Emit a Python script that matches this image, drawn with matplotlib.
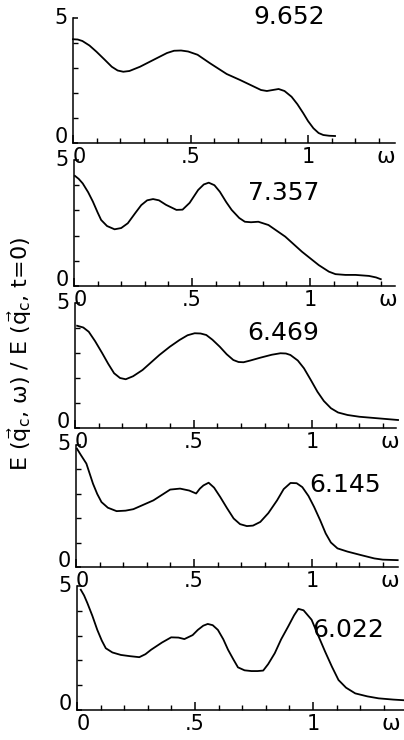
import matplotlib
matplotlib.use('Agg')
import matplotlib.pyplot as plt
from matplotlib.ticker import FixedLocator

plt.rcParams['font.family'] = ['DejaVu Sans']
plt.rcParams['mathtext.fontset'] = 'dejavusans'

panel_labels = ['9.652', '7.357', '6.469', '6.145', '6.022']

w1 = [0, 0.02, 0.04, 0.07, 0.10, 0.135, 0.165, 0.19, 0.214, 0.24, 0.285, 0.356, 0.40, 0.43, 0.46, 0.49, 0.53, 0.583, 0.654, 0.711, 0.76, 0.80, 0.825, 0.85, 0.875, 0.90, 0.93, 0.955, 0.98, 1.00, 1.023, 1.045, 1.065, 1.09, 1.115]
e1 = [4.15, 4.14, 4.08, 3.90, 3.65, 3.33, 3.05, 2.90, 2.85, 2.88, 3.05, 3.39, 3.60, 3.69, 3.70, 3.66, 3.53, 3.19, 2.76, 2.52, 2.30, 2.12, 2.08, 2.12, 2.16, 2.08, 1.85, 1.55, 1.19, 0.88, 0.59, 0.40, 0.32, 0.29, 0.28]

w2 = [0.004, 0.02, 0.037, 0.06, 0.08, 0.10, 0.115, 0.14, 0.172, 0.20, 0.228, 0.26, 0.285, 0.31, 0.335, 0.36, 0.39, 0.434, 0.46, 0.49, 0.526, 0.55, 0.571, 0.595, 0.618, 0.645, 0.668, 0.70, 0.724, 0.75, 0.781, 0.824, 0.895, 0.966, 1.037, 1.08, 1.108, 1.15, 1.193, 1.25, 1.28, 1.30]
e2 = [4.37, 4.25, 4.07, 3.72, 3.35, 2.92, 2.62, 2.38, 2.25, 2.30, 2.49, 2.90, 3.21, 3.40, 3.45, 3.40, 3.22, 3.02, 3.03, 3.30, 3.81, 4.03, 4.10, 4.00, 3.74, 3.33, 3.02, 2.70, 2.55, 2.53, 2.55, 2.42, 1.96, 1.36, 0.83, 0.57, 0.47, 0.44, 0.44, 0.40, 0.34, 0.27]

w3 = [0.009, 0.035, 0.058, 0.085, 0.115, 0.14, 0.165, 0.19, 0.214, 0.245, 0.285, 0.356, 0.40, 0.441, 0.475, 0.505, 0.53, 0.554, 0.58, 0.611, 0.64, 0.668, 0.69, 0.711, 0.74, 0.781, 0.83, 0.867, 0.89, 0.909, 0.94, 0.966, 0.995, 1.023, 1.05, 1.08, 1.11, 1.15, 1.20, 1.25, 1.30, 1.363]
e3 = [4.09, 4.02, 3.85, 3.47, 2.99, 2.57, 2.19, 2.00, 1.95, 2.07, 2.32, 2.92, 3.25, 3.52, 3.71, 3.79, 3.78, 3.72, 3.53, 3.25, 2.95, 2.72, 2.64, 2.63, 2.70, 2.81, 2.93, 2.99, 2.98, 2.92, 2.70, 2.39, 1.92, 1.45, 1.08, 0.79, 0.62, 0.52, 0.45, 0.41, 0.37, 0.32]

w4 = [0.004, 0.02, 0.044, 0.072, 0.09, 0.108, 0.135, 0.172, 0.21, 0.243, 0.328, 0.37, 0.399, 0.441, 0.48, 0.509, 0.525, 0.54, 0.562, 0.585, 0.611, 0.64, 0.668, 0.695, 0.724, 0.75, 0.781, 0.815, 0.852, 0.88, 0.909, 0.935, 0.959, 0.985, 1.009, 1.035, 1.058, 1.08, 1.108, 1.15, 1.206, 1.264, 1.30, 1.363]
e4 = [4.83, 4.58, 4.22, 3.40, 2.98, 2.65, 2.42, 2.28, 2.30, 2.36, 2.72, 2.98, 3.16, 3.20, 3.12, 3.00, 3.20, 3.33, 3.44, 3.24, 2.86, 2.40, 1.98, 1.75, 1.67, 1.69, 1.84, 2.20, 2.72, 3.18, 3.43, 3.42, 3.26, 2.90, 2.45, 1.90, 1.37, 1.00, 0.76, 0.63, 0.49, 0.35, 0.30, 0.28]

w5 = [0.016, 0.03, 0.044, 0.065, 0.086, 0.105, 0.122, 0.15, 0.186, 0.225, 0.264, 0.29, 0.314, 0.36, 0.399, 0.43, 0.455, 0.49, 0.512, 0.535, 0.554, 0.575, 0.597, 0.62, 0.640, 0.662, 0.682, 0.71, 0.739, 0.765, 0.789, 0.81, 0.838, 0.865, 0.895, 0.92, 0.938, 0.96, 0.994, 1.02, 1.051, 1.08, 1.108, 1.14, 1.179, 1.23, 1.278, 1.34, 1.409]
e5 = [4.85, 4.62, 4.31, 3.80, 3.23, 2.80, 2.49, 2.32, 2.22, 2.17, 2.13, 2.25, 2.43, 2.72, 2.93, 2.92, 2.86, 3.02, 3.23, 3.40, 3.47, 3.42, 3.23, 2.85, 2.43, 2.05, 1.72, 1.60, 1.57, 1.57, 1.59, 1.85, 2.29, 2.85, 3.37, 3.82, 4.08, 4.02, 3.64, 3.05, 2.36, 1.75, 1.21, 0.90, 0.67, 0.55, 0.47, 0.42, 0.38]

x_ticks = [0, 0.5, 1.0]
x_ticklabels = ['0', '.5', '1']
x_minor = [0.1, 0.2, 0.3, 0.4, 0.6, 0.7, 0.8, 0.9, 1.1, 1.2, 1.3]
y_ticks = [0, 5]
y_ticklabels = ['0', '5']
y_minor = [1, 2, 3, 4]
omega_label = 'ω'
ylabel = r'E ($\vec{\mathrm{q}}_\mathrm{c}$, ω) / E ($\vec{\mathrm{q}}_\mathrm{c}$, t=0)'

series = [(w1, e1), (w2, e2), (w3, e3), (w4, e4), (w5, e5)]

W, H = 404, 740
fig = plt.figure(figsize=(W / 100, H / 100), dpi=100)

# pixel layout: x of w=0, x of w=1, y of E=0, y of E=5, right end of axis
layout = [(73, 308, 143, 18, 395), (74, 310, 286, 160, 395), (75, 312, 428, 303, 396),
          (76, 312, 567, 444.5, 398), (77, 313, 710, 586, 404)]
label_pos = [(0.92, 5.04), (0.89, 3.69), (0.88, 3.8), (1.14, 3.35), (1.15, 3.23)]

for i, ((w, e), lab) in enumerate(zip(series, panel_labels)):
    x0, x1, y0, y5, xr = layout[i]
    ppu = x1 - x0
    xmax = (xr - x0) / ppu
    ax = fig.add_axes([x0 / W, 1 - y0 / H, (xr - x0) / W, (y0 - y5) / H])
    ax.patch.set_alpha(0)
    ax.set_xlim(0, xmax)
    ax.set_ylim(0, 5)
    ax.plot(w, e, color='black', lw=1.3, clip_on=False, solid_joinstyle='round')
    for s in ['top', 'right']:
        ax.spines[s].set_visible(False)
    for s in ['left', 'bottom']:
        ax.spines[s].set_linewidth(1.1)
    ax.xaxis.set_major_locator(FixedLocator(x_ticks))
    ax.set_xticklabels(x_ticklabels)
    ax.get_xticklabels()[0].set_horizontalalignment('left')
    ax.xaxis.set_minor_locator(FixedLocator(x_minor))
    ax.yaxis.set_major_locator(FixedLocator(y_ticks))
    ax.set_yticklabels(y_ticklabels)
    ylabs = ax.get_yticklabels()
    ylabs[0].set_verticalalignment('baseline')
    ylabs[1].set_verticalalignment('center')
    ax.yaxis.set_minor_locator(FixedLocator(y_minor))
    ax.tick_params(axis='x', which='major', direction='in', length=6, width=1.1, pad=3, labelsize=15)
    ax.tick_params(axis='x', which='minor', direction='in', length=3.5, width=1.0)
    ax.tick_params(axis='y', which='major', direction='in', length=3.5, width=1.1, pad=4, labelsize=15)
    ax.tick_params(axis='y', which='minor', direction='in', length=3.5, width=1.0)
    ax.annotate(omega_label, xy=(1.33, 0), xytext=(0, -3), textcoords='offset points',
                ha='center', va='top', fontsize=16, annotation_clip=False)
    ax.text(label_pos[i][0], label_pos[i][1], lab, ha='center', va='center', fontsize=18)

fig.text(20 / W, 1 - 354 / H, ylabel, rotation=90, ha='center', va='center', fontsize=16)

fig.savefig('out.png', dpi=100)
